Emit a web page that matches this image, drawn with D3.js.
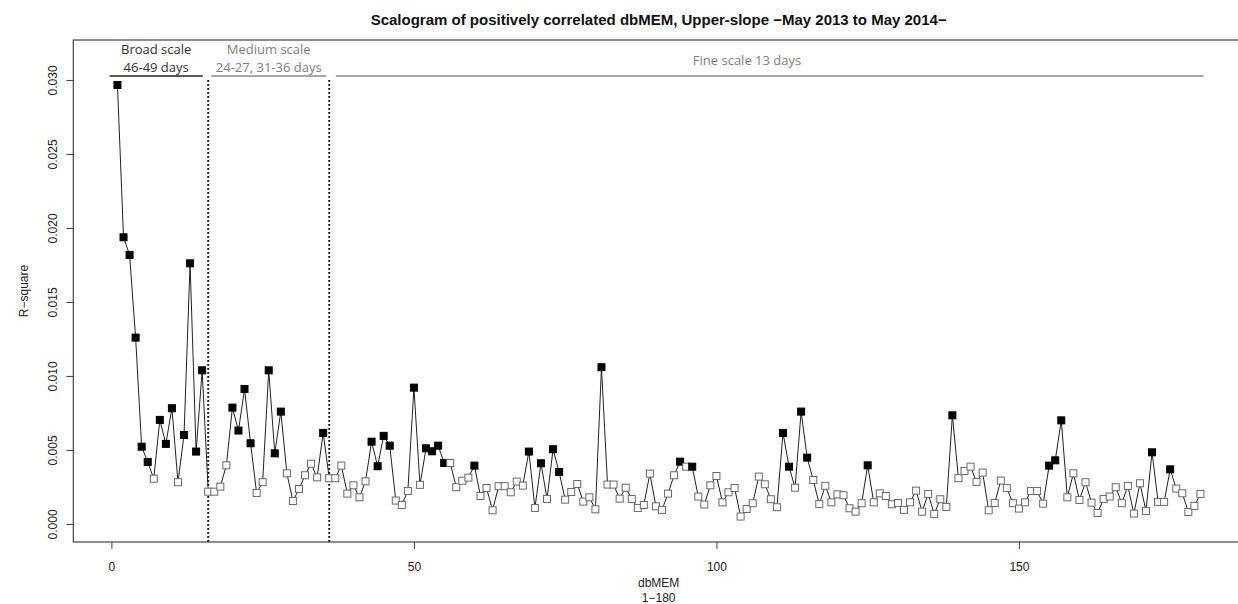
<!DOCTYPE html>
<html>
<head>
<meta charset="utf-8">
<script src="https://cdn.jsdelivr.net/npm/d3@7/dist/d3.min.js"></script>
<style>
  html, body { margin: 0; padding: 0; background: #fff; }
  svg { display: block; }
</style>
</head>
<body>
<svg id="chart" width="1238" height="604"></svg>
<script>
// ---- data ----
const titleText = "Scalogram of positively correlated dbMEM, Upper-slope \u2212May 2013 to May 2014\u2212";
const xLabel = "dbMEM";
const xSubLabel = "1\u2212180";
const yLabel = "R\u2212square";
const xTicks = [0, 50, 100, 150];
const yTicks = [0, 0.005, 0.010, 0.015, 0.020, 0.025, 0.030];

// R-square values (x 0.001) for dbMEM 1..180
const rsq = [
 29.66,19.37,18.18,12.59,5.22,4.19,3.06,7.03,5.41,7.82,
 2.82,6.01,17.61,4.89,10.38,2.18,2.18,2.52,3.96,7.86,
 6.31,9.12,5.45,2.09,2.82,10.38,4.77,7.59,3.42,1.55,
 2.36,3.29,4.07,3.15,6.15,3.09,3.09,3.94,2.05,2.61,
 1.80,2.88,5.56,3.90,5.95,5.29,1.58,1.28,2.23,9.21,
 2.64,5.11,4.91,5.29,4.12,4.12,2.48,2.92,3.13,3.94,
 1.89,2.43,0.92,2.55,2.55,2.14,2.86,2.59,4.89,1.08,
 4.10,1.69,5.05,3.51,1.64,2.16,2.70,1.51,1.80,0.99,
 10.59,2.66,2.66,1.71,2.45,1.69,1.08,1.28,3.40,1.19,
 0.95,2.05,3.29,4.21,3.87,3.87,1.85,1.31,2.61,3.24,
 1.46,2.14,2.43,0.50,1.01,1.40,3.20,2.68,1.67,1.13,
 6.15,3.87,2.45,7.59,4.48,2.97,1.34,2.58,1.46,2.00,
 1.94,1.06,0.83,1.40,3.96,1.46,2.07,1.89,1.33,1.42,
 0.95,1.46,2.25,0.83,2.03,0.68,1.67,1.15,7.34,3.09,
 3.58,3.87,2.84,3.47,0.92,1.42,2.93,2.42,1.40,1.04,
 1.46,2.23,2.23,1.37,3.94,4.30,7.00,1.80,3.42,1.62,
 2.82,1.44,0.74,1.69,1.85,2.48,1.40,2.57,0.70,2.75,
 0.88,4.84,1.49,1.49,3.69,2.39,2.07,0.81,1.22,2.03
];
// significant (filled) dbMEMs
const significant = [1,2,3,4,5,6,8,9,10,12,13,14,15,20,21,22,23,26,27,28,35,
  43,44,45,46,50,52,53,54,55,60,69,71,73,74,81,94,96,111,112,114,115,125,139,
  155,156,157,172,175];

// scale boundaries (dbMEM index)
const boundaries = [16, 36];
const scaleGroups = [
  {lines: ["Broad scale", "46-49 days"], from: -0.3, to: 15.1, color: "#333", lineColor: "#222"},
  {lines: ["Medium scale", "24-27, 31-36 days"], from: 16.5, to: 35.5, color: "#808080", lineColor: "#8a8a8a"},
  {lines: ["Fine scale 13 days"], from: 37.1, to: 180.5, color: "#808080", lineColor: "#8a8a8a"}
];

// ---- drawing ----
(function draw() {
  const svg = d3.select("#chart");
  const pL = 73.3, pR = 1244, pT = 40, pB = 542;
  const x = d3.scaleLinear().domain([-6.3, 187.2]).range([pL, pR]);
  const y = d3.scaleLinear().domain([-0.00122, 0.03270]).range([pB, pT]);

  const sigSet = new Set(significant);
  const data = rsq.map((v, i) => ({i: i + 1, v: v / 1000, sig: sigSet.has(i + 1)}));

  const rFont = "'Liberation Sans', Arial, Helvetica, sans-serif";
  const annFont = "'Open Sans', 'Noto Sans', sans-serif";

  // title
  svg.append("text")
    .attr("x", (pL + pR) / 2).attr("y", 25)
    .attr("text-anchor", "middle")
    .attr("font-family", rFont).attr("font-weight", "bold").attr("font-size", 15)
    .attr("fill", "#111")
    .text(titleText);

  // box
  svg.append("rect")
    .attr("x", pL).attr("y", pT)
    .attr("width", pR - pL).attr("height", pB - pT)
    .attr("fill", "none").attr("stroke", "#444").attr("stroke-width", 1.2);

  // y axis
  const yAxis = svg.append("g")
    .attr("transform", `translate(${pL},0)`)
    .call(d3.axisLeft(y).tickValues(yTicks).tickSize(7).tickFormat(d3.format(".3f")));
  yAxis.select(".domain").remove();
  yAxis.selectAll("line").attr("stroke", "#444");
  yAxis.selectAll("text")
    .attr("transform", "rotate(-90)")
    .attr("x", 0).attr("y", -16.5).attr("dy", 0)
    .attr("text-anchor", "middle")
    .attr("font-family", rFont).attr("font-size", 12).attr("fill", "#222");

  // x axis
  const xAxis = svg.append("g")
    .attr("transform", `translate(0,${pB})`)
    .call(d3.axisBottom(x).tickValues(xTicks).tickSize(7).tickFormat(d3.format("d")));
  xAxis.select(".domain").remove();
  xAxis.selectAll("line").attr("stroke", "#444");
  xAxis.selectAll("text")
    .attr("y", 28.5).attr("dy", 0)
    .attr("font-family", rFont).attr("font-size", 12).attr("fill", "#222");

  // axis labels
  svg.append("text")
    .attr("x", (pL + pR) / 2).attr("y", 587)
    .attr("text-anchor", "middle")
    .attr("font-family", rFont).attr("font-size", 12).attr("fill", "#222")
    .text(xLabel);
  svg.append("text")
    .attr("x", (pL + pR) / 2).attr("y", 601.5)
    .attr("text-anchor", "middle")
    .attr("font-family", rFont).attr("font-size", 12).attr("fill", "#222")
    .text(xSubLabel);
  svg.append("text")
    .attr("transform", `translate(28,${(pT + pB) / 2}) rotate(-90)`)
    .attr("text-anchor", "middle")
    .attr("font-family", rFont).attr("font-size", 12).attr("fill", "#222")
    .text(yLabel);

  // scale annotations
  const lineY = 76;
  scaleGroups.forEach(g => {
    const x1 = x(g.from), x2 = x(g.to);
    svg.append("line")
      .attr("x1", x1).attr("x2", x2).attr("y1", lineY).attr("y2", lineY)
      .attr("stroke", g.lineColor).attr("stroke-width", 1.4);
    const cx = g.lines.length === 1 ? 747 : (x1 + x2) / 2;
    const ys = g.lines.length === 1 ? [65] : [54, 72];
    g.lines.forEach((t, k) => {
      svg.append("text")
        .attr("x", cx).attr("y", ys[k])
        .attr("text-anchor", "middle")
        .attr("font-family", annFont).attr("font-size", 13)
        .attr("fill", g.color)
        .text(t);
    });
  });

  // dotted boundaries
  boundaries.forEach(b => {
    svg.append("line")
      .attr("x1", x(b)).attr("x2", x(b))
      .attr("y1", 80).attr("y2", pB)
      .attr("stroke", "#111").attr("stroke-width", 2)
      .attr("stroke-dasharray", "1.8,2.2");
  });

  // series line
  svg.append("path")
    .datum(data)
    .attr("d", d3.line().x(d => x(d.i)).y(d => y(d.v)))
    .attr("fill", "none").attr("stroke", "#222").attr("stroke-width", 1);

  // markers
  const s = 7;
  svg.append("g").selectAll("rect")
    .data(data)
    .join("rect")
    .attr("x", d => x(d.i) - s / 2)
    .attr("y", d => y(d.v) - s / 2)
    .attr("width", s).attr("height", s)
    .attr("fill", d => d.sig ? "#000" : "#fff")
    .attr("stroke", d => d.sig ? "#000" : "#6a6a6a")
    .attr("stroke-width", 1);
})();
</script>
</body>
</html>
